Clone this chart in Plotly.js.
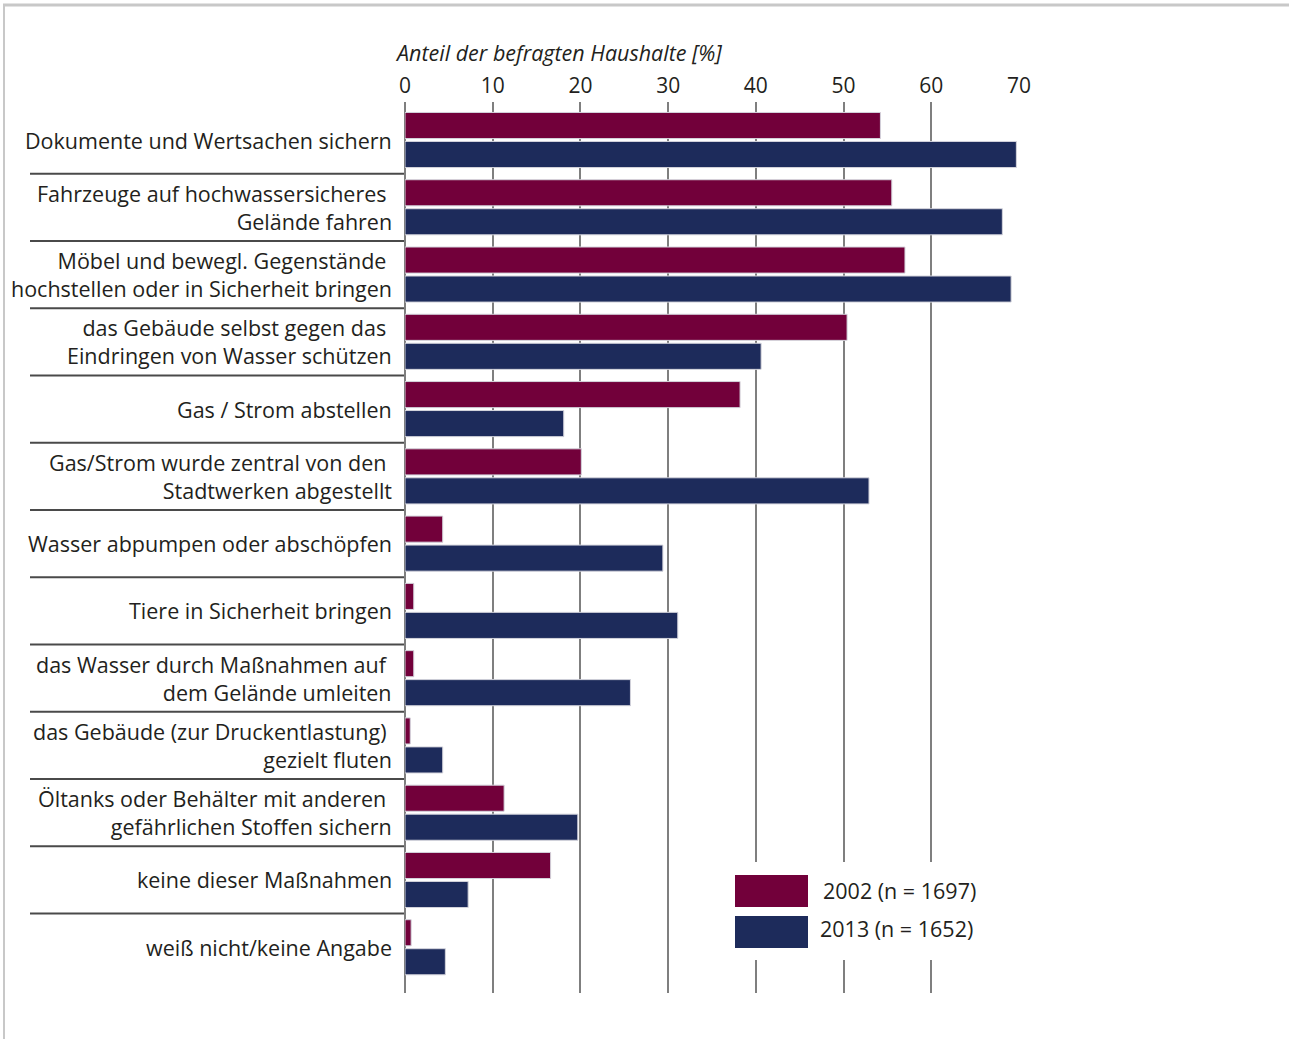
<!DOCTYPE html>
<html>
<head>
<meta charset="utf-8">
<script src="https://cdn.plot.ly/plotly-3.0.1.min.js"></script>
<style>html,body{margin:0;padding:0;background:#fff;}#chart{width:1297px;height:1039px;}</style>
</head>
<body>
<div id="chart"></div>
<script>
const categories = [
  "Dokumente und Wertsachen sichern",
  "Fahrzeuge auf hochwassersicheres<br>Gelände fahren",
  "Möbel und bewegl. Gegenstände<br>hochstellen oder in Sicherheit bringen",
  "das Gebäude selbst gegen das<br>Eindringen von Wasser schützen",
  "Gas / Strom abstellen",
  "Gas/Strom wurde zentral von den<br>Stadtwerken abgestellt",
  "Wasser abpumpen oder abschöpfen",
  "Tiere in Sicherheit bringen",
  "das Wasser durch Maßnahmen auf<br>dem Gelände umleiten",
  "das Gebäude (zur Druckentlastung)<br>gezielt fluten",
  "Öltanks oder Behälter mit anderen<br>gefährlichen Stoffen sichern",
  "keine dieser Maßnahmen",
  "weiß nicht/keine Angabe"
];
const values2002 = [54.2, 55.5, 57.0, 50.4, 38.2, 20.1, 4.3, 1.0, 1.0, 0.6, 11.3, 16.6, 0.7];
const values2013 = [69.7, 68.1, 69.1, 40.6, 18.1, 52.9, 29.4, 31.1, 25.7, 4.3, 19.7, 7.2, 4.6];
const seriesNames = ["2002 (n = 1697)", "2013 (n = 1652)"];
const seriesColors = ["#72003a", "#1d2b5b"];
const xTicks = [0, 10, 20, 30, 40, 50, 60, 70];
const axisTitle = "Anteil der befragten Haushalte [%]";

const FONT = "Open Sans, Arial, sans-serif";
const TXT = "#231f20";
const FS = 21.5;
const idx = categories.map((c, i) => i);

const traces = [values2002, values2013].map((vals, k) => ({
  type: "bar",
  orientation: "h",
  x: vals,
  y: idx,
  name: seriesNames[k],
  marker: { color: seriesColors[k], line: { color: "#d4d4dc", width: 1 } },
  showlegend: false,
  hoverinfo: "x"
}));

// plot area in pixels
const L = 405, R = 1019, T = 102, B = 993, W = 1297, H = 1039;
const px = v => (v - L) / (R - L);
const py = v => (B - v) / (B - T);

const shapes = [];
const annotations = [];

// category separators
for (let i = 0; i < categories.length - 1; i++) {
  shapes.push({ type: "line", xref: "paper", yref: "y", x0: px(30), x1: px(404), y0: i + 0.5, y1: i + 0.5,
    line: { color: "#4a4a4a", width: 2 } });
}
// frame lines (top and left)
shapes.push({ type: "line", xref: "paper", yref: "paper", x0: px(3), x1: px(1289), y0: py(5), y1: py(5), line: { color: "#c8c8c8", width: 3 } });
shapes.push({ type: "line", xref: "paper", yref: "paper", x0: px(4), x1: px(4), y0: py(5), y1: py(1039), line: { color: "#c8c8c8", width: 2 } });

// category labels
categories.forEach((c, i) => {
  const lines = c.split("<br>");
  const txt = lines.length > 1 ? lines[0] + "\u00a0<br>" + lines.slice(1).join("<br>") : c;
  annotations.push({ xref: "paper", yref: "y", x: px(394), y: i, text: txt, showarrow: false,
    xanchor: "right", yanchor: "middle", align: "right",
    font: { family: FONT, size: FS, color: TXT } });
});

// axis title
annotations.push({ xref: "paper", yref: "paper", x: px(393), y: py(52), text: "<i>" + axisTitle + "</i>", showarrow: false,
  xanchor: "left", yanchor: "middle", font: { family: FONT, size: FS, color: TXT } });

// legend background (covers gridlines) + legend items
shapes.push({ type: "rect", xref: "paper", yref: "paper", x0: px(722), x1: px(995), y0: py(960), y1: py(862),
  fillcolor: "#ffffff", line: { width: 0 }, layer: "above" });
const legBoxes = [[875, 907], [916, 948]];
const legText = [[821, 890], [818, 928]];
seriesNames.forEach((nm, k) => {
  shapes.push({ type: "rect", xref: "paper", yref: "paper", x0: px(735), x1: px(808), y0: py(legBoxes[k][1]), y1: py(legBoxes[k][0]),
    fillcolor: seriesColors[k], line: { width: 0 }, layer: "above" });
  annotations.push({ xref: "paper", yref: "paper", x: px(legText[k][0]), y: py(legText[k][1]), text: nm, showarrow: false,
    xanchor: "left", yanchor: "middle", font: { family: FONT, size: FS, color: TXT } });
});

const layout = {
  width: W, height: H,
  margin: { l: L, r: W - R, t: T, b: H - B, pad: 0 },
  paper_bgcolor: "#ffffff", plot_bgcolor: "#ffffff",
  barmode: "group", bargap: 0.138, bargroupgap: 0.1,
  showlegend: false,
  font: { family: FONT, color: TXT },
  xaxis: {
    side: "top", range: [0, 70], tickvals: xTicks, ticktext: xTicks.map(String),
    showgrid: true, gridcolor: "#7f7f7f", gridwidth: 2,
    zeroline: true, zerolinecolor: "#7f7f7f", zerolinewidth: 2,
    showline: false, ticks: "", ticklabelstandoff: 4,
    tickfont: { family: FONT, size: 21, color: TXT }, fixedrange: true
  },
  yaxis: {
    type: "linear", range: [12.68, -0.565], showgrid: false, zeroline: false, showline: false,
    showticklabels: false, ticks: "", fixedrange: true
  },
  shapes: shapes,
  annotations: annotations
};

Plotly.newPlot("chart", traces, layout, { displayModeBar: false, staticPlot: true });
</script>
</body>
</html>
